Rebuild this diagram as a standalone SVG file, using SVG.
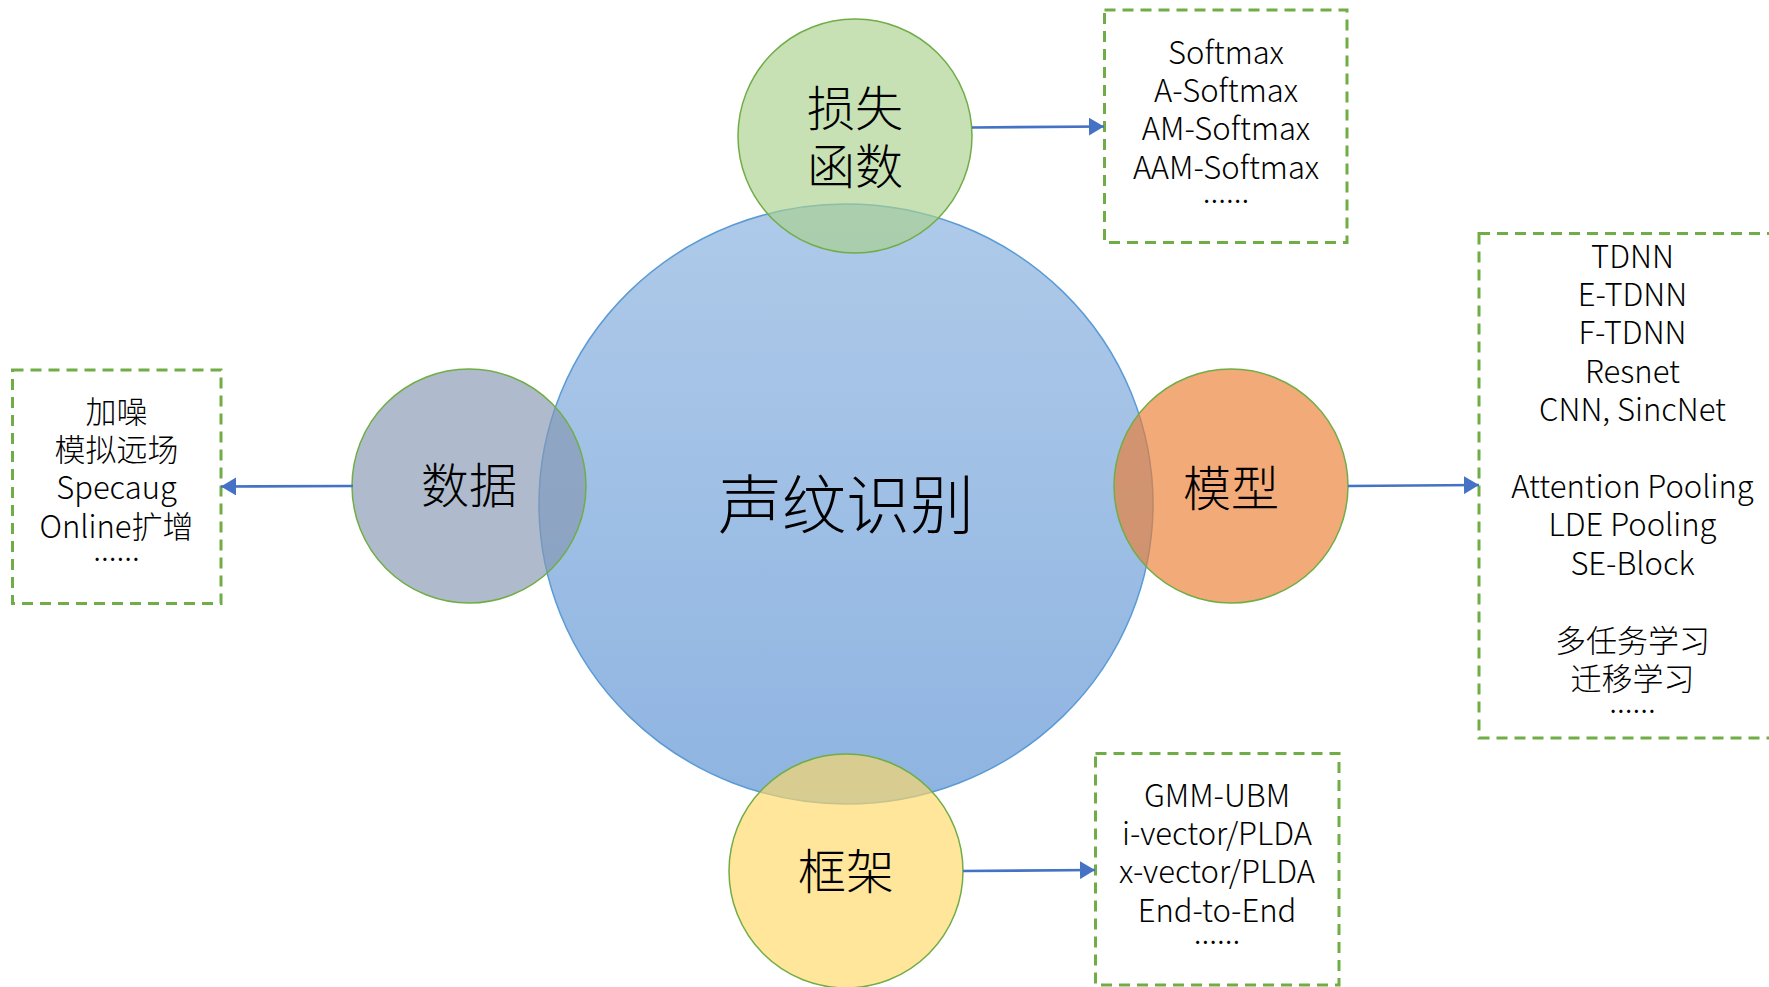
<svg xmlns="http://www.w3.org/2000/svg" width="1769" height="987" viewBox="0 0 1769 987">
<style>
.t{font-family:"Noto Sans CJK SC","Liberation Sans",sans-serif;fill:#000;text-anchor:middle;font-weight:300}
.b{font-size:31px}
.box{fill:none;stroke:#70AD47;stroke-width:3;stroke-dasharray:11 7}
.sc{stroke:#70AD47;stroke-width:1.5}
.conn{stroke:#4472C4;stroke-width:2.6;fill:none;marker-end:url(#ah)}
</style>
<defs>
<linearGradient id="bg" x1="0" y1="0" x2="0" y2="1">
<stop offset="0" stop-color="#AFCAE9"/>
<stop offset="1" stop-color="#8EB4E1"/>
</linearGradient>
<marker id="ah" markerUnits="userSpaceOnUse" markerWidth="16" markerHeight="18" refX="15" refY="9" orient="auto">
<path d="M0,0 L15,9 L0,18 Z" fill="#4472C4"/>
</marker>
</defs>
<rect width="1769" height="987" fill="#fff"/>
<g id="center">
<ellipse cx="846" cy="504" rx="307" ry="300" fill="url(#bg)" stroke="#5B9BD5" stroke-width="1.5"/>
<text class="t" x="846" y="528" font-size="64">声纹识别</text>
</g>
<g id="loss">
<circle cx="855" cy="136" r="117" fill="#A9D18E" fill-opacity="0.65" class="sc"/>
<text class="t" x="855" y="126" font-size="48">损失</text>
<text class="t" x="855" y="184" font-size="48">函数</text>
</g>
<g id="data">
<circle cx="469" cy="486" r="117" fill="#8497B0" fill-opacity="0.65" class="sc"/>
<text class="t" x="469" y="503" font-size="48">数据</text>
</g>
<g id="model">
<circle cx="1231" cy="486" r="117" fill="#ED7D31" fill-opacity="0.65" class="sc"/>
<text class="t" x="1231" y="506" font-size="48">模型</text>
</g>
<g id="frame">
<circle cx="846" cy="871" r="117" fill="#FFD966" fill-opacity="0.65" class="sc"/>
<text class="t" x="846" y="889" font-size="48">框架</text>
</g>
<g id="loss-box">
<rect class="box" x="1104.5" y="10" width="242.5" height="232.5"/>
<text class="t b" x="1226"><tspan x="1226" y="63.5">Softmax</tspan><tspan x="1226" y="101.9">A-Softmax</tspan><tspan x="1226" y="140.3">AM-Softmax</tspan><tspan x="1226" y="178.7">AAM-Softmax</tspan><tspan x="1226" y="203">......</tspan></text>
</g>
<g id="data-box">
<rect class="box" x="12.5" y="370" width="208.5" height="233.5"/>
<text class="t b" x="116.5"><tspan x="116.5" y="422.5">加噪</tspan><tspan x="116.5" y="460.9">模拟远场</tspan><tspan x="116.5" y="499.3">Specaug</tspan><tspan x="116.5" y="537.7">Online扩增</tspan><tspan x="116.5" y="560.5">......</tspan></text>
</g>
<g id="model-box">
<rect class="box" x="1479" y="233.5" width="320" height="504.5"/>
<text class="t b" x="1632.5"><tspan x="1632.5" y="267.5">TDNN</tspan><tspan x="1632.5" y="305.9">E-TDNN</tspan><tspan x="1632.5" y="344.3">F-TDNN</tspan><tspan x="1632.5" y="382.7">Resnet</tspan><tspan x="1632.5" y="421.1">CNN, SincNet</tspan><tspan x="1632.5" y="497.9">Attention Pooling</tspan><tspan x="1632.5" y="536.3">LDE Pooling</tspan><tspan x="1632.5" y="574.7">SE-Block</tspan><tspan x="1632.5" y="651.5">多任务学习</tspan><tspan x="1632.5" y="689.9">迁移学习</tspan><tspan x="1632.5" y="713">......</tspan></text>
</g>
<g id="frame-box">
<rect class="box" x="1095.5" y="753.5" width="243.5" height="231.5"/>
<text class="t b" x="1217"><tspan x="1217" y="806.5">GMM-UBM</tspan><tspan x="1217" y="844.9">i-vector/PLDA</tspan><tspan x="1217" y="883.3">x-vector/PLDA</tspan><tspan x="1217" y="921.7">End-to-End</tspan><tspan x="1217" y="944">......</tspan></text>
</g>
<g id="connectors">
<path class="conn" d="M972,127.5 L1104,126.5"/>
<path class="conn" d="M353,486 L221,486.5"/>
<path class="conn" d="M1348,486 L1479,485"/>
<path class="conn" d="M963,871 L1095,870"/>
</g>
</svg>
